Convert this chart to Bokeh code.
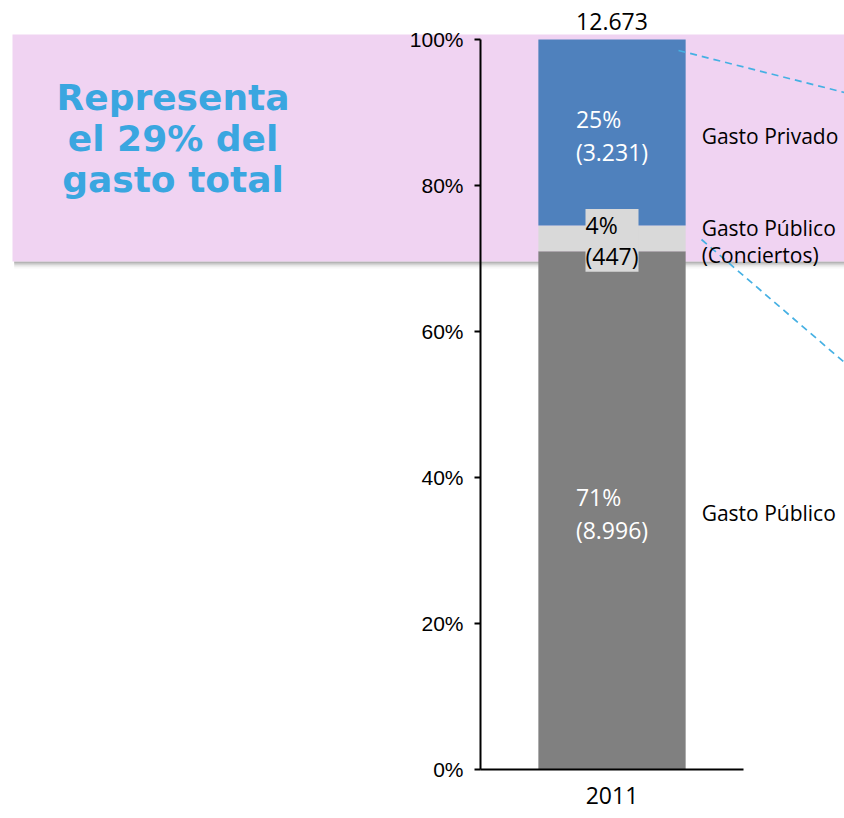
from bokeh.plotting import figure
from bokeh.models import (Range1d, LinearAxis, FixedTicker, NumeralTickFormatter,
                          ColumnDataSource, LabelSet, Label, BoxAnnotation)
from bokeh.core.properties import value
from bokeh.embed import file_html
from bokeh.resources import INLINE

# ---------------- data ----------------
years = ["2011"]
segments = ["Gasto Público", "Gasto Público\n(Conciertos)", "Gasto Privado"]
amounts = [8996, 447, 3231]
total_amount = 12673
y_ticks = [0, 0.2, 0.4, 0.6, 0.8, 1.0]
callout_text = "Representa\nel 29% del\ngasto total"

# ---------------- style ----------------
seg_colors = ["#808080", "#D9D9D9", "#4F81BD"]
pink = "#F0D3F2"
callout_blue = "#3AA6E0"
lab_font = "Open Sans"

W, H = 844, 818
x_center = 1.0
bar_width = 0.56


def fmt(n):
    return f"{n:,}".replace(",", ".")


s = sum(amounts)
fracs = [a / s for a in amounts]
bottoms, tops = [], []
acc = 0.0
for f in fracs:
    bottoms.append(acc)
    acc += f
    tops.append(acc)
mids = [(b + t) / 2 for b, t in zip(bottoms, tops)]
inner_text = [f"{round(100 * a / total_amount)}%\n({fmt(a)})" for a in amounts]

p = figure(width=W, height=H, output_backend="svg", toolbar_location=None,
           x_range=Range1d(-1.3251, 1.8840), y_range=Range1d(-0.06712, 1.05342),
           x_axis_type=None, y_axis_type=None, min_border=0,
           outline_line_color=None, background_fill_color="white",
           border_fill_color="white")
p.grid.visible = False

# pink callout band with shadow
for k, a in [(1, 0.35), (3, 0.22), (5, 0.12), (7, 0.05)]:
    p.add_layout(BoxAnnotation(left=-1.273, top=0.6959, bottom=0.6959 - k / 730,
                               fill_color="#606060", fill_alpha=a, line_color=None,
                               level="underlay"))
p.add_layout(BoxAnnotation(left=-1.2795, top=1.00685, bottom=0.6959,
                           fill_color=pink, fill_alpha=1, line_color=None,
                           level="underlay"))

# stacked bar
src = ColumnDataSource(dict(x=[x_center] * 3, bottom=bottoms, top=tops,
                            color=seg_colors))
p.vbar(x="x", bottom="bottom", top="top", width=bar_width, fill_color="color",
       line_color=None, source=src)

# dashed leader lines
p.segment(x0=[1.2529, 1.3403], y0=[0.98493, 0.72603],
          x1=[1.8840, 1.8840], y1=[0.92740, 0.55753],
          line_color="#45B0E3", line_width=1.7, line_dash="7 5")

# inner labels
dark_idx = [0, 2]
light_idx = [1]
src_dark = ColumnDataSource(dict(x=[x_center] * len(dark_idx),
                                 y=[mids[i] for i in dark_idx],
                                 t=[inner_text[i] for i in dark_idx]))
p.add_layout(LabelSet(x="x", y="y", text="t", source=src_dark, text_align="center",
                      text_baseline="middle", text_color="white",
                      text_font=value(lab_font), text_font_size="23px",
                      text_line_height=1.02, y_offset=-3))
src_light = ColumnDataSource(dict(x=[x_center] * len(light_idx),
                                  y=[mids[i] for i in light_idx],
                                  t=[inner_text[i] for i in light_idx]))
p.add_layout(LabelSet(x="x", y="y", text="t", source=src_light, text_align="center",
                      text_baseline="middle", text_color="black",
                      text_font=value(lab_font), text_font_size="23px",
                      text_line_height=0.96, y_offset=-2,
                      background_fill_color="#D9D9D9", background_fill_alpha=1))

# series labels on the right
src_seg = ColumnDataSource(dict(x=[x_center + bar_width / 2] * 3, y=mids, t=segments))
p.add_layout(LabelSet(x="x", y="y", text="t", source=src_seg, text_align="left",
                      text_baseline="middle", text_color="black",
                      text_font=value(lab_font), text_font_size="21px",
                      text_line_height=0.98, x_offset=16, y_offset=-3))

# total label
p.add_layout(Label(x=x_center, y=tops[-1], text=fmt(total_amount), text_align="center",
                   text_baseline="middle", text_font=lab_font, text_font_size="23px",
                   text_color="black", y_offset=18))

# callout text
p.add_layout(Label(x=-0.669, y=0.8616, text=callout_text, text_align="center",
                   text_baseline="middle", text_font="DejaVu Sans",
                   text_font_style="bold", text_font_size="36px",
                   text_color=callout_blue, text_line_height=1.0, y_offset=2))

# axes
yaxis = LinearAxis(fixed_location=0.5, bounds=(0, 1),
                   ticker=FixedTicker(ticks=y_ticks, minor_ticks=[]),
                   formatter=NumeralTickFormatter(format="0%"))
yaxis.axis_line_width = 2
yaxis.axis_line_color = "black"
yaxis.major_tick_line_width = 2
yaxis.major_tick_out = 6
yaxis.major_tick_in = 0
yaxis.minor_tick_out = 0
yaxis.minor_tick_in = 0
yaxis.major_label_standoff = 11
yaxis.major_label_text_font = "Liberation Sans"
yaxis.major_label_text_font_size = "21px"
yaxis.major_label_text_color = "black"
p.add_layout(yaxis, "left")

xaxis = LinearAxis(fixed_location=0, bounds=(0.5, 1.5),
                   ticker=FixedTicker(ticks=[x_center], minor_ticks=[]),
                   major_label_overrides={x_center: years[0]})
xaxis.axis_line_width = 2
xaxis.axis_line_color = "black"
xaxis.major_tick_out = 0
xaxis.major_tick_in = 0
xaxis.minor_tick_out = 0
xaxis.minor_tick_in = 0
xaxis.major_label_standoff = 17
xaxis.major_label_text_font = lab_font
xaxis.major_label_text_font_size = "23px"
xaxis.major_label_text_color = "black"
p.add_layout(xaxis, "below")

open("out.html", "w").write(file_html(p, INLINE))
